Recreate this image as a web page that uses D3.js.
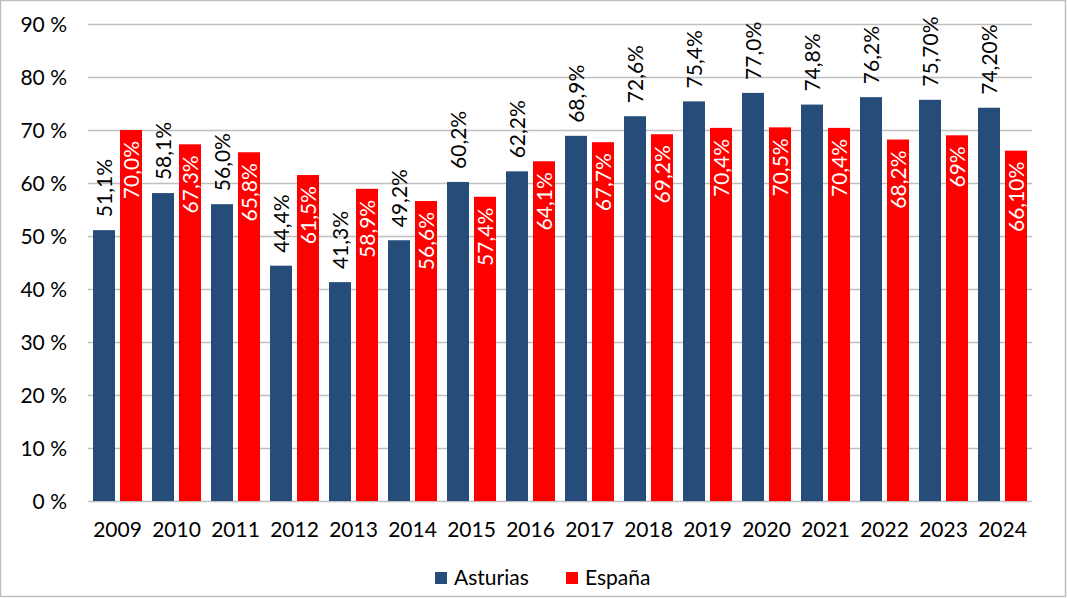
<!DOCTYPE html>
<html>
<head>
<meta charset="utf-8">
<script src="https://cdn.jsdelivr.net/npm/d3@7/dist/d3.min.js"></script>
<style>
  html, body { margin: 0; padding: 0; background: #fff; }
  svg { display: block; }
  text { font-family: Lato, "Open Sans", sans-serif; }
</style>
</head>
<body>
<svg id="chart" width="1067" height="598"></svg>
<script>
const years = ["2009","2010","2011","2012","2013","2014","2015","2016","2017","2018","2019","2020","2021","2022","2023","2024"];
const seriesNames = ["Asturias", "España"];
const asturias = [51.1, 58.1, 56.0, 44.4, 41.3, 49.2, 60.2, 62.2, 68.9, 72.6, 75.4, 77.0, 74.8, 76.2, 75.7, 74.2];
const espana   = [70.0, 67.3, 65.8, 61.5, 58.9, 56.6, 57.4, 64.1, 67.7, 69.2, 70.4, 70.5, 70.4, 68.2, 69.0, 66.1];
const asturiasLabels = ["51,1%","58,1%","56,0%","44,4%","41,3%","49,2%","60,2%","62,2%","68,9%","72,6%","75,4%","77,0%","74,8%","76,2%","75,70%","74,20%"];
const espanaLabels   = ["70,0%","67,3%","65,8%","61,5%","58,9%","56,6%","57,4%","64,1%","67,7%","69,2%","70,4%","70,5%","70,4%","68,2%","69%","66,10%"];
const yTicks = [0, 10, 20, 30, 40, 50, 60, 70, 80, 90];

const colors = { "Asturias": "#264C79", "España": "#FF0000" };

const svg = d3.select("#chart");
const W = 1067, H = 598;
const plotL = 88, plotR = 1032, plotT = 24, plotB = 501;

// outer border
svg.append("rect").attr("x", 0.5).attr("y", 0.5).attr("width", W - 2).attr("height", H - 2)
  .attr("fill", "#fff").attr("stroke", "#BFBFBF").attr("stroke-width", 1.5);

const x0 = d3.scaleBand().domain(years).range([plotL, plotR]).paddingInner(10/59).paddingOuter(5/59);
const x1 = d3.scaleBand().domain(seriesNames).range([0, x0.bandwidth()]).paddingInner(0.185);
const y = d3.scaleLinear().domain([0, 90]).range([plotB, plotT]);

// gridlines
svg.append("g").selectAll("line").data(yTicks).join("line")
  .attr("x1", plotL).attr("x2", plotR)
  .attr("y1", d => Math.round(y(d)) + 0.5).attr("y2", d => Math.round(y(d)) + 0.5)
  .attr("stroke", "#BFBFBF").attr("stroke-width", 1.3);

// y axis labels
const yAxis = d3.axisLeft(y).tickValues(yTicks).tickSize(0).tickPadding(0)
  .tickFormat(d => d + " %");
const ya = svg.append("g").attr("transform", `translate(${plotL - 21},0)`).call(yAxis);
ya.select(".domain").remove();
ya.selectAll("text").attr("font-size", 21).attr("fill", "#000")
  .attr("font-family", "Lato, 'Open Sans', sans-serif").attr("dy", "0.35em");

// x axis labels
const xAxis = d3.axisBottom(x0).tickSize(0).tickPadding(0);
const xa = svg.append("g").attr("transform", `translate(0,${plotB + 20})`).call(xAxis);
xa.select(".domain").remove();
xa.selectAll("text").attr("font-size", 21).attr("fill", "#000")
  .attr("font-family", "Lato, 'Open Sans', sans-serif").attr("dy", "0.75em");

const rows = years.map((yr, i) => ({
  year: yr,
  vals: [
    { s: "Asturias", v: asturias[i], label: asturiasLabels[i] },
    { s: "España", v: espana[i], label: espanaLabels[i] }
  ]
}));

const groups = svg.append("g").selectAll("g").data(rows).join("g")
  .attr("transform", d => `translate(${x0(d.year)},0)`);

groups.selectAll("rect").data(d => d.vals).join("rect")
  .attr("x", d => x1(d.s)).attr("width", x1.bandwidth())
  .attr("y", d => y(d.v)).attr("height", d => y(0) - y(d.v))
  .attr("fill", d => colors[d.s]);

groups.selectAll("text.lbl").data(d => d.vals).join("text")
  .attr("class", "lbl")
  .attr("transform", d => {
    const cx = x1(d.s) + x1.bandwidth() / 2;
    const cy = d.s === "Asturias" ? y(d.v) - 13 : y(d.v) + 11;
    return `translate(${cx},${cy}) rotate(-90)`;
  })
  .attr("text-anchor", d => d.s === "Asturias" ? "start" : "end")
  .attr("dy", "0.36em")
  .attr("font-size", 21)
  .attr("fill", d => d.s === "Asturias" ? "#000" : "#fff")
  .text(d => d.label);

// legend
const legendItems = [
  { s: "Asturias", x: 435 },
  { s: "España", x: 566 }
];
const lg = svg.append("g");
lg.selectAll("rect").data(legendItems).join("rect")
  .attr("x", d => d.x).attr("y", 572).attr("width", 12).attr("height", 12)
  .attr("fill", d => colors[d.s]);
lg.selectAll("text").data(legendItems).join("text")
  .attr("x", d => d.x + 19).attr("y", 585)
  .attr("font-size", 21).attr("fill", "#000")
  .text(d => d.s);
</script>
</body>
</html>
